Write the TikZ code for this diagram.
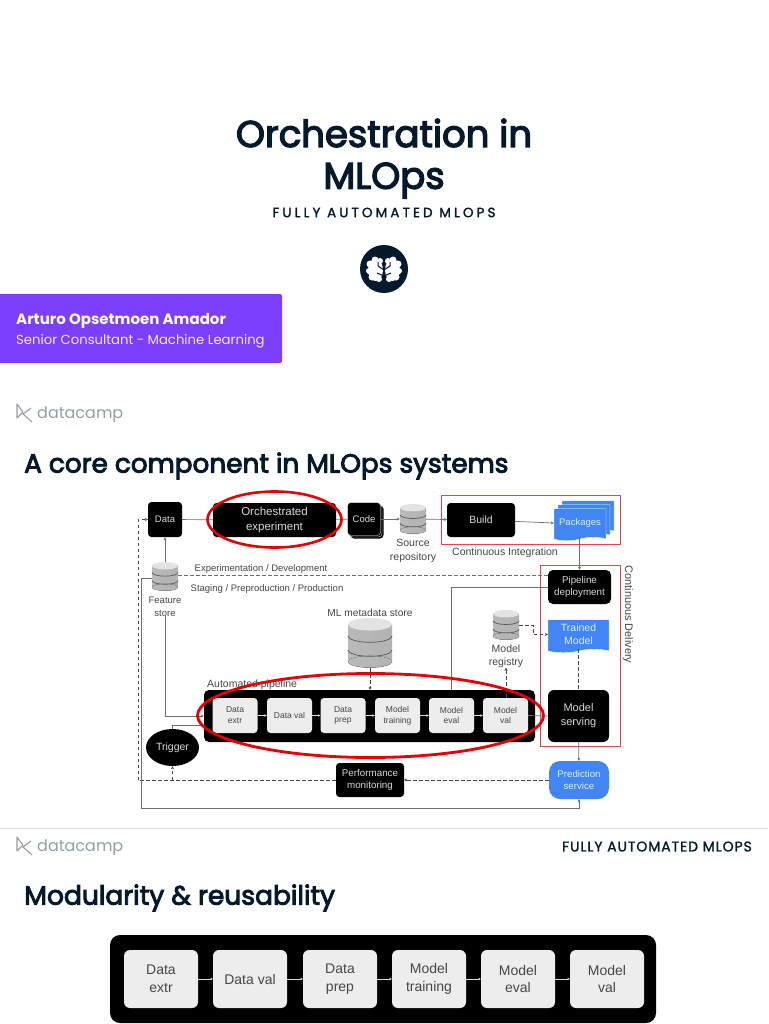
\documentclass[tikz,border=0pt]{standalone}
\usepackage{fontspec}
\setmainfont{Poppins}
\newfontfamily\diagrama{Liberation Sans}
\newfontfamily\grueso{Poppins}[FakeBold=3.5]
\newfontfamily\espaciada{Poppins}[LetterSpace=23,FakeBold=1.5]
\newfontfamily\seccion{Poppins}[LetterSpace=6.5,FakeBold=1.5]
\usetikzlibrary{positioning,arrows.meta,shapes.geometric,shapes.symbols,calc}
\definecolor{marino}{RGB}{5,25,45}
\definecolor{violeta}{RGB}{125,63,255}
\definecolor{azul}{RGB}{66,133,244}
\definecolor{rojo}{RGB}{232,0,0}
\definecolor{rojosuave}{RGB}{226,70,70}
\definecolor{gristexto}{RGB}{70,70,70}
\definecolor{grislinea}{RGB}{110,110,110}
\definecolor{grislogo}{RGB}{150,158,165}
\newcommand{\letra}[1]{\pgfmathsetmacro\interlinea{#1*1.27}\fontsize{#1}{\interlinea}\selectfont}
\newcommand{\basedatos}[5]{%
  \node[minimum width=#4pt, minimum height=#5pt, inner sep=0pt] (#1) at (#2,#3) {};
  \fill[left color=gray!55, middle color=gray!15, right color=gray!60] ({#2-#4/2},{#3-#5/2+#4/7}) rectangle ({#2+#4/2},{#3+#5/2-#4/7});
  \fill[gray!60] (#2,{#3+#5/2-#4/7}) ellipse[x radius=#4/2, y radius=#4/7];
  \fill[left color=gray!55, middle color=gray!15, right color=gray!60] (#2,{#3+#5/2-#4/7}) ellipse[x radius=#4/2, y radius=#4/7.6];
  \fill[gray!22] (#2,{#3-#5/2+#4/7}) ellipse[x radius=#4/2, y radius=#4/7];
  \foreach \d in {-0.14,0.14}{
    \draw[banda] ({#2-#4/2},{#3+\d*#5}) arc[start angle=180, end angle=0, x radius=#4/2, y radius=#4/7];
  }
}
\newcommand{\logocamp}[3]{%
  \draw[grislogo, line width=1.1pt, line join=round] (#2,#3-9) -- (#2,#3+5) -- (#2+6,#3-1) -- cycle;
  \draw[grislogo, line width=1.1pt] (#2+14,#3-5) -- (#2+6,#3+1) -- (#2+15,#3+9);
  \node[anchor=west, inner sep=0pt, text=grislogo, font=\letra{16}] (#1) at (#2+20,#3+2) {datacamp};
}
\begin{document}
\begin{tikzpicture}[x=1pt, y=-1pt,
  negro/.style={fill=black, text=white!85!black, rounded corners=3.5pt, inner sep=0pt, align=center, font=\diagrama\letra{#1}},
  paso/.style={fill=white!93!black, text=gristexto, rounded corners=3.5pt, inner sep=0pt, align=center, minimum height=35pt, minimum width=45pt, font=\diagrama\letra{8.5}},
  pasogrande/.style={fill=white!93!black, text=gristexto, rounded corners=6pt, inner sep=0pt, align=center, minimum height=58pt, minimum width=74pt, font=\diagrama\letra{14}},
  hoja/.style={tape, tape bend top=none, tape bend height=3.5pt, fill=azul, draw=white, line width=0.4pt, text=white!85!azul, inner sep=0pt, align=center, font=\diagrama\letra{#1}},
  banda/.style={draw=white!35!black, line width=0.7pt},
  etiqueta/.style={text=gristexto, inner sep=0pt, align=center, font=\diagrama\letra{#1}},
  marco/.style={draw=rojosuave, line width=0.8pt, inner sep=0pt},
  anillo/.style={ellipse, draw=rojo, inner sep=0pt},
  rel/.style={-{Stealth[length=3pt,width=3pt]}, draw=grislinea, line width=0.7pt},
  liso/.style={draw=grislinea, line width=0.7pt},
  punteada/.style={-{Stealth[length=3pt,width=3pt]}, draw=gristexto, line width=0.7pt, dash pattern=on 3.5pt off 2.5pt},
  entre/.style={-{Stealth[length=2.5pt,width=2.5pt]}, draw=white!85!black, line width=0.7pt},
  titulo/.style={text=marino, inner sep=0pt, font=\grueso\letra{#1}}
]
\useasboundingbox (0,0) rectangle (768,1024);
% Portada
\node[titulo=37] (t1) at (384,133) {Orchestration in};
\node[titulo=37, below=15pt of t1] (t2) {MLOps};
\node[text=marino, inner sep=0pt, font=\espaciada\letra{13.5}] (sub) at (384,212.5) {FULLY AUTOMATED MLOPS};
\node[circle, fill=marino, minimum size=48pt, inner sep=0pt] (cerebro) at (384,269) {};
\fill[white] (375.5,270) ellipse[x radius=7.5, y radius=11] (392.5,270) ellipse[x radius=7.5, y radius=11];
\foreach \a/\b/\r in {370/264/3.5,375/260/3.5,380/261/3,369/271/3,372/277/3.5,379/279/3,398/264/3.5,393/260/3.5,388/261/3,399/271/3,396/277/3.5,389/279/3}{
  \fill[white] (\a,\b) circle[radius=\r];
}
\draw[marino, line width=1pt] (384,256) -- (384,283) (384,270) -- (378,266) -- (378,262) (384,270) -- (390,266) -- (390,262) (384,276) -- (377,273) (384,276) -- (391,273);
\node[fill=violeta, rounded corners=2pt, minimum width=286pt, minimum height=69pt, inner sep=0pt] (autor) at (139,328.5) {};
\node[anchor=west, text=white, inner sep=0pt, font=\bfseries\letra{15}] (nombre) at (16,320.5) {Arturo Opsetmoen Amador};
\node[anchor=west, text=white!90!violeta, inner sep=0pt, font=\letra{13.2}] (cargo) at (16,341.5) {Senior Consultant - Machine Learning};
\logocamp{logoa}{17}{413}
\node[anchor=west, titulo=26.3] (h1) at (24,466) {A core component in MLOps systems};
% Marcos rojos de CI y CD
\node[marco, minimum width=179pt, minimum height=49pt] (ci) at (530.5,519.5) {};
\node[marco, minimum width=80pt, minimum height=181pt] (cd) at (580,655.5) {};
% Fila superior
\node[negro=9.5, minimum width=34pt, minimum height=35pt] (data) at (165,519.5) {Data};
\node[negro=11.5, minimum width=123pt, minimum height=34pt] (orq) at (274.5,520) {Orchestrated\\experiment};
\node[negro=9.5, minimum width=33pt, minimum height=33pt] (code3) at (367,522) {};
\node[negro=9.5, draw=white, line width=0.3pt, minimum width=33pt, minimum height=33pt] (code2) at (365.5,520.5) {};
\node[negro=9.5, draw=white, line width=0.3pt, minimum width=33pt, minimum height=33pt] (code) at (364,519) {Code};
\basedatos{fuente}{413}{519}{26}{30}
\node[etiqueta=10.5, below=5pt of fuente] (fuentet) {Source\\repository};
\node[negro=10.5, minimum width=68pt, minimum height=34pt] (build) at (481,520) {Build};
\node[hoja=9.5, minimum width=52pt, minimum height=32pt] (pk3) at (588,515) {};
\node[hoja=9.5, minimum width=52pt, minimum height=32pt] (pk2) at (584,519) {};
\node[hoja=9.5, minimum width=52pt, minimum height=32pt] (pk) at (580,523) {Packages};
\node[etiqueta=10.5] (cit) at (505,553) {Continuous Integration};
% Almacenes
\basedatos{fs}{165}{576.5}{26}{29}
\node[etiqueta=9.5, below=6pt of fs] (fst) {Feature\\store};
\node[etiqueta=9.5] (expt) at (261,569) {Experimentation / Development};
\node[etiqueta=9.5] (stgt) at (267,589) {Staging / Preproduction / Production};
\node[etiqueta=10.2] (mdt) at (370,613) {ML metadata store};
\basedatos{md}{370}{643}{44}{50}
\basedatos{reg}{506}{625}{26}{30}
\node[etiqueta=10.5, below=4pt of reg] (regt) {Model\\registry};
% Entrega continua
\node[negro=9.8, minimum width=63pt, minimum height=34pt, rounded corners=5pt] (dep) at (579.5,587) {Pipeline\\deployment};
\node[hoja=10.5, minimum width=61pt, minimum height=33pt] (tm) at (578.5,634.5) {Trained\\Model};
\node[negro=11, minimum width=61pt, minimum height=52pt, rounded corners=6pt] (ms) at (578.5,716) {Model\\serving};
\node[fill=azul, text=white!85!azul, rounded corners=11pt, inner sep=0pt, align=center, minimum width=60pt, minimum height=38pt, font=\diagrama\letra{9.7}] (pred) at (579,780) {Prediction\\service};
\node[etiqueta=10.9, rotate=-90] (cdt) at (628,614.5) {Continuous Delivery};
% Pipeline automatizado
\node[etiqueta=10.5, anchor=west] (apt) at (207,685) {Automated pipeline};
\node[negro=9, minimum width=331pt, minimum height=52pt, rounded corners=5pt] (auto) at (369.5,716) {};
\node[paso] (p1) at (235,715.5) {Data\\extr};
\node[paso] (p2) at (289.5,715.5) {Data val};
\node[paso] (p3) at (343,715.5) {Data\\prep};
\node[paso] (p4) at (397.5,715.5) {Model\\training};
\node[paso] (p5) at (451.5,715.5) {Model\\eval};
\node[paso] (p6) at (505.5,715.5) {Model\\val};
\foreach \u/\v in {p1/p2,p2/p3,p3/p4,p4/p5,p5/p6}{
  \draw[entre] (\u) -- (\v);
}
\node[ellipse, negro=10.5, minimum width=53pt, minimum height=37pt] (trig) at (172.5,747.5) {Trigger};
\node[negro=9.8, minimum width=68pt, minimum height=34pt] (perf) at (370,780) {Performance\\monitoring};
% Relaciones
\coordinate (esq1) at (138,780);
\coordinate (esq2) at (141,578);
\coordinate (esq3) at (141,808);
\coordinate (esq4) at (172.5,780);
\draw[liso] (data) -- (orq);
\draw[liso] (orq) -- (code);
\draw[rel] (code) -- (fuente);
\draw[rel] (fuente) -- (build);
\draw[rel] (build) -- (pk.west);
\draw[rel] (pk.south -| dep.north) -- (dep.north);
\draw[rel] (fs) -- (data);
\draw[rel] (fst.south) |- (auto.west |- 0,716);
\draw[liso] (trig.north) |- (auto.west |- 0,725);
\draw[liso] (dep.west) -| (p5.north |- auto.north);
\draw[liso] (p6.east) -- (ms.west);
\draw[rel] (ms) -- (pred);
\draw[punteada] (md.south) -- (auto.north -| md.south);
\draw[punteada] (auto.north -| regt.south) ++(0,8) -- (regt.south);
\draw[punteada] (reg.east) -- ++(14,0) |- (tm.west);
\draw[punteada, -] (tm.south) -- (ms.north);
\draw[punteada] (pred.west) -- (perf.east);
\draw[punteada, -] (perf.west) -- (esq1);
\draw[punteada] (esq1) -- (esq1 |- data) -- (data.west);
\draw[punteada] (esq4) -- (trig.south);
\draw[punteada, -, draw=grislinea] (fs.east |- 0,575) -- (dep.west |- 0,575);
\draw[liso, line width=0.9pt] (fs.west |- esq2) -- (esq2) -- (esq3);
\draw[rel] (esq3) -| (pred.south);
% Anillos rojos
\node[anillo, line width=2.6pt, minimum width=134pt, minimum height=56pt] (an1) at (274.5,519.5) {};
\node[anillo, line width=2.8pt, minimum width=346pt, minimum height=84pt] (an2) at (370.5,715.5) {};
% Segunda diapositiva
\draw[gray!25, line width=0.7pt] (0,828) -- (768,828);
\logocamp{logob}{17}{846}
\node[anchor=east, text=marino, inner sep=0pt, font=\seccion\letra{14}] (sec) at (752,846.5) {FULLY AUTOMATED MLOPS};
\node[anchor=west, titulo=26.5] (h2) at (24,898) {Modularity \& reusability};
\node[fill=black, rounded corners=10pt, minimum width=546pt, minimum height=88pt, inner sep=0pt] (autog) at (383,979) {};
\node[pasogrande] (q1) at (161,979) {Data\\extr};
\node[pasogrande] (q2) at (250,979) {Data val};
\node[pasogrande] (q3) at (340,979) {Data\\prep};
\node[pasogrande] (q4) at (429,979) {Model\\training};
\node[pasogrande] (q5) at (518,979) {Model\\eval};
\node[pasogrande] (q6) at (607,979) {Model\\val};
\foreach \u/\v in {q1/q2,q2/q3,q3/q4,q4/q5,q5/q6}{
  \draw[entre] (\u) -- (\v);
}
\end{tikzpicture}
\end{document}
